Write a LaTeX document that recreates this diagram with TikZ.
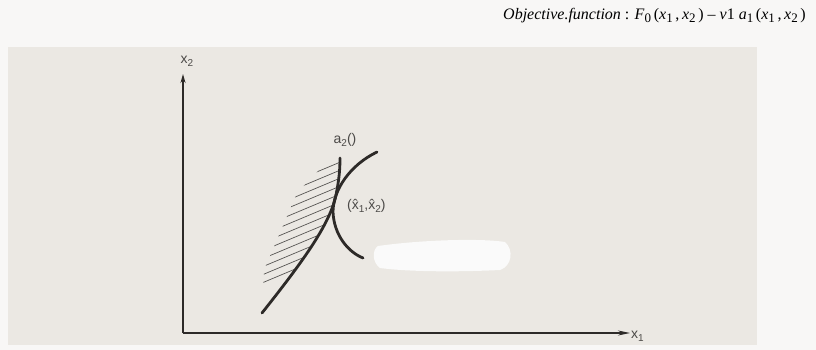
\documentclass[tikz,border=0pt]{standalone}
\usepackage{fontspec}
\setmainfont{Liberation Serif}
\newfontfamily\lblfont{Liberation Sans}
\usetikzlibrary{arrows.meta}
\definecolor{paper}{RGB}{248,247,246}
\definecolor{panel}{RGB}{235,232,227}
\definecolor{ink}{RGB}{45,42,40}
\definecolor{blob}{RGB}{250,250,250}
\tikzset{
  axis/.style={draw=ink, line width=1.4pt},
  curve/.style={draw=ink, line width=2.8pt, line cap=round},
  hatch/.style={draw=ink!80, line width=0.7pt},
  lbl/.style={font=\lblfont\fontsize{14}{15}\selectfont, text=ink!85, inner sep=1pt},
}
\newcommand{\sbs}[1]{\raisebox{-0.4ex}{\fontsize{13}{13}\selectfont #1}}
\newcommand{\lsb}[1]{\raisebox{-0.45ex}{\fontsize{10}{10}\selectfont #1}}
\begin{document}
\begin{tikzpicture}[x=1pt,y=-1pt]
\useasboundingbox (0,0) rectangle (816,350);
\fill[paper] (0,0) rectangle (816,350);
\fill[panel] (8,47) rectangle (757,345);
% title
\node[anchor=east, inner sep=0pt, font=\fontsize{16}{18}\selectfont] (title) at (806,16)
  {\textit{Objective.function} : \textit{F}\sbs{0}\,(\textit{x}\sbs{1}\,,\,\textit{x}\sbs{2}\,) -- \textit{v}1 \textit{a}\sbs{1}\,(\textit{x}\sbs{1}\,,\,\textit{x}\sbs{2}\,)};
% axes
\coordinate (O) at (183,333);
\coordinate (ytip) at (183,74);
\coordinate (xtip) at (630,333);
\draw[axis, -{Stealth[length=9pt,width=5pt]}] (O) -- (ytip);
\draw[axis, -{Stealth[length=12pt,width=5pt]}] (O) -- (xtip);
\node[lbl] (x2) at (187,61) {x\lsb{2}};
\node[lbl, anchor=west] (x1) at (630,336) {x\lsb{1}};
% hatching
\begin{scope}
\clip (262,313) .. controls (300,265) and (330,225) .. (336,195)
      .. controls (339,180) and (340,170) .. (340,158)
      -- (322,167) -- (297,193) -- (264,270) -- cycle;
\foreach \k in {0,...,14} {
  \draw[hatch] (250,{176+8*\k}) -- (350,{176+8*\k-42});
}
\end{scope}
% curves
\draw[curve] (262,313) .. controls (300,265) and (330,225) .. (336,195)
      .. controls (339,180) and (340,170) .. (340,158);
\draw[curve] (377,152) .. controls (350,165) and (333,190) .. (333,212)
      .. controls (334,235) and (348,252) .. (363,258);
% labels
\node[lbl] (a2) at (345,140) {a\lsb{2}()};
\node[lbl, anchor=west] (xhat) at (346,206) {(\^{x}\lsb{1},\^{x}\lsb{2})};
% erased patch
\fill[blob] (378,246) .. controls (420,240) and (480,238) .. (505,242)
  .. controls (514,250) and (512,266) .. (500,270)
  .. controls (460,272) and (410,272) .. (380,268)
  .. controls (372,262) and (372,250) .. (378,246);
\end{tikzpicture}
\end{document}
